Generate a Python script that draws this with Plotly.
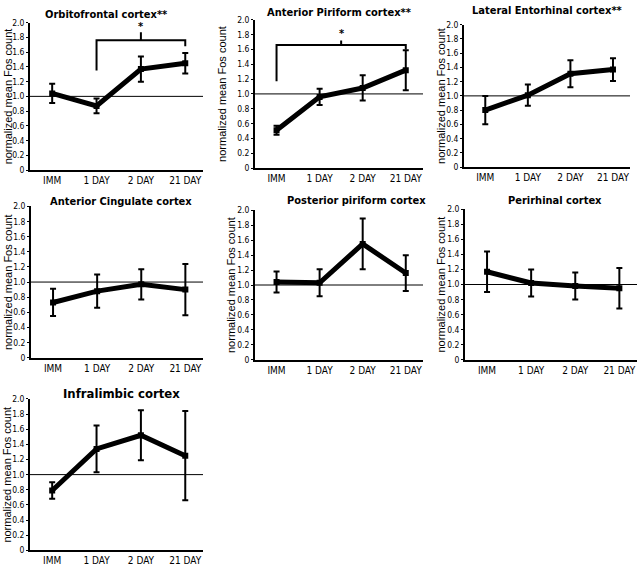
import plotly.graph_objects as go

W, H = 640, 570

days = ["IMM", "1 DAY", "2 DAY", "21 DAY"]

# mean normalized Fos count and error per region
ofc_mean = [1.04, 0.87, 1.37, 1.45]
ofc_err = [0.13, 0.10, 0.17, 0.14]
apc_mean = [0.51, 0.96, 1.08, 1.32]
apc_err = [0.06, 0.11, 0.17, 0.27]
lec_mean = [0.80, 1.01, 1.31, 1.37]
lec_err = [0.20, 0.15, 0.19, 0.16]
acc_mean = [0.73, 0.88, 0.97, 0.90]
acc_err = [0.18, 0.22, 0.20, 0.34]
ppc_mean = [1.04, 1.03, 1.55, 1.16]
ppc_err = [0.14, 0.18, 0.34, 0.24]
prh_mean = [1.17, 1.02, 0.98, 0.95]
prh_err = [0.27, 0.18, 0.18, 0.27]
il_mean = [0.79, 1.34, 1.52, 1.25]
il_err = [0.11, 0.31, 0.33, 0.59]

titles = ["Orbitofrontal cortex**", "Anterior Piriform cortex**", "Lateral Entorhinal cortex**",
          "Anterior Cingulate cortex", "Posterior piriform cortex", "Perirhinal cortex",
          "Infralimbic cortex"]

# significance brackets:
# (panel, start idx, end idx, left leg bottom, top, right leg bottom, tick top, star level)
brackets = [
    (0, 1, 3, 1.35, 1.76, 1.68, 1.87, 1.95),
    (1, 0, 3, 1.17, 1.66, 1.60, 1.72, 1.81),
]

yticks = [0, 0.2, 0.4, 0.6, 0.8, 1.0, 1.2, 1.4, 1.6, 1.8, 2.0]
ytick_text = ["0"] + ["%.1f" % v for v in yticks[1:]]

# panel boxes in pixels: x0, x1, ytop, ybottom ; title centre ; y-title x
boxes = [
    (30, 203, 18, 168, 106, 10, 8),
    (255, 423, 15, 166, 339, 8, 222),
    (464, 630, 20, 165, 547, 6, 441),
    (31, 203, 205, 359, 121, 200, 8),
    (255, 423, 209, 361, 356, 199, 231),
    (465, 637, 208, 361, 555, 199, 441),
    (30, 203, 401, 555, 121, 395, 7),
]

series = [(ofc_mean, ofc_err), (apc_mean, apc_err), (lec_mean, lec_err),
          (acc_mean, acc_err), (ppc_mean, ppc_err), (prh_mean, prh_err),
          (il_mean, il_err)]

FONT = "DejaVu Sans Condensed, Liberation Sans"

fig = go.Figure()
layout = dict(width=W, height=H, margin=dict(l=0, r=0, t=0, b=0),
              paper_bgcolor="white", plot_bgcolor="white", showlegend=False,
              font=dict(family=FONT, color="black"))
annotations = []
shapes = []
xpos = list(range(len(days)))

for i, ((mean, err), box) in enumerate(zip(series, boxes)):
    x0, x1, yt, yb, tx, ty, ytx = box
    n = "" if i == 0 else str(i + 1)
    xa, ya = "x" + n, "y" + n
    fig.add_trace(go.Scatter(
        x=xpos, y=mean, xaxis=xa, yaxis=ya, mode="lines+markers",
        line=dict(color="black", width=5),
        marker=dict(symbol="square", size=6, color="black"),
        error_y=dict(type="data", array=err, thickness=2, width=3, color="black"),
    ))
    layout["xaxis" + n] = dict(
        domain=[x0 / W, x1 / W], anchor=ya, range=[-0.5, 3.4],
        tickvals=xpos, ticktext=days, showgrid=False, zeroline=False,
        showline=True, linecolor="black", linewidth=2, ticks="",
        tickfont=dict(size=10, family=FONT), fixedrange=True,
    )
    layout["yaxis" + n] = dict(
        domain=[1 - yb / H, 1 - yt / H], anchor=xa, range=[0, 2.0],
        tickvals=yticks, ticktext=ytick_text, showgrid=False, zeroline=False,
        showline=True, linecolor="black", linewidth=2, ticks="outside",
        ticklen=2, tickwidth=1, tickcolor="black",
        tickfont=dict(size=8.5, family=FONT), fixedrange=True,
    )
    shapes.append(dict(type="line", xref=xa + " domain", yref=ya, x0=0, x1=1,
                       y0=1.0, y1=1.0, line=dict(color="black", width=1)))
    annotations.append(dict(
        text="<b>%s</b>" % titles[i], x=tx / W, y=1 - ty / H, xref="paper", yref="paper",
        showarrow=False, xanchor="center", yanchor="middle",
        font=dict(size=13 if i == 6 else 11, family=FONT, color="black"),
    ))
    annotations.append(dict(
        text="normalized mean Fos count", x=ytx / W, y=1 - (yt + yb) / 2 / H,
        xref="paper", yref="paper", showarrow=False, textangle=-90,
        xanchor="center", yanchor="middle",
        font=dict(size=11, family="Liberation Sans, Arial", color="black"),
    ))

for p, a, b, lb, top, rb, tick, star in brackets:
    n = "" if p == 0 else str(p + 1)
    mid = (a + b) / 2
    fig.add_trace(go.Scatter(
        x=[a, a, b, b], y=[lb, top, top, rb], xaxis="x" + n, yaxis="y" + n,
        mode="lines", line=dict(color="black", width=2),
    ))
    fig.add_trace(go.Scatter(
        x=[mid, mid], y=[top, tick], xaxis="x" + n, yaxis="y" + n,
        mode="lines", line=dict(color="black", width=2),
    ))
    annotations.append(dict(
        text="<b>*</b>", x=mid, y=star, xref="x" + n, yref="y" + n,
        showarrow=False, yanchor="middle", font=dict(size=11, color="black"),
    ))

layout["annotations"] = annotations
layout["shapes"] = shapes
fig.update_layout(**layout)
fig.write_html("out.html", config={"displayModeBar": False},
               post_script="document.body.style.margin='0px';")
